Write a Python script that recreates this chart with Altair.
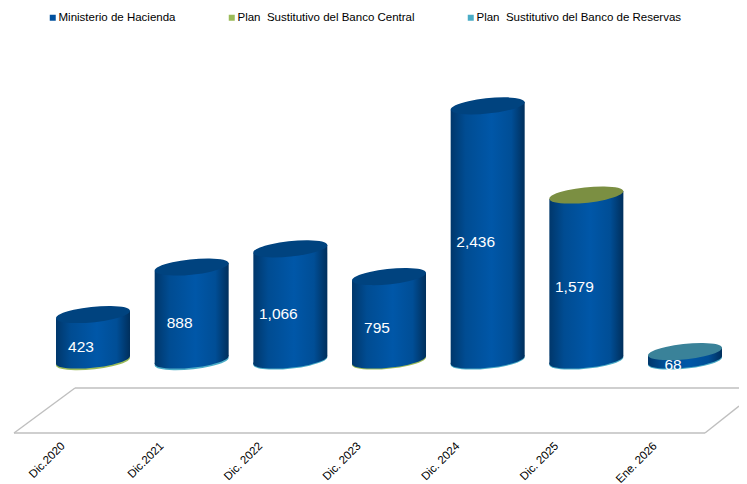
import altair as alt
import pandas as pd

categories = ["Dic.2020", "Dic.2021", "Dic. 2022", "Dic. 2023", "Dic. 2024", "Dic. 2025", "Ene. 2026"]
hacienda = [423, 888, 1066, 795, 2436, 1579, 68]
# small rim amounts visible under each cylinder, and the series that caps it
rim_series = ["central", "reservas", "reservas", "central", "reservas", "reservas", "reservas"]
rim_values = [15, 15, 10, 10, 10, 10, 10]
top_series = ["hacienda", "hacienda", "hacienda", "hacienda", "hacienda", "central", "reservas"]
extra_top = [13, 4, 0, 5, 0, 3, 13]

series_names = {
    "hacienda": "Ministerio de Hacienda",
    "central": "Plan\u00a0 Sustitutivo del Banco Central",
    "reservas": "Plan\u00a0 Sustitutivo del Banco de Reservas",
}
legend_order = list(series_names.values())
legend_colors = ["#00509E", "#9BBB59", "#4BACC6"]
top_colors = {"hacienda": "#00437F", "central": "#7B8F42", "reservas": "#3A8299"}

W, H = 731, 425
PX = 0.1043
BASE = 352
Y_TOP = BASE / PX
Y_BOTTOM = -(H - BASE) / PX
STEP = 98.67
X0 = -85 / STEP
X1 = (W - 85) / STEP
HALF = 37 / STEP
TILT = 3.9 / PX

x_scale = alt.Scale(domain=[X0, X1], nice=False, zero=False)
y_scale = alt.Scale(domain=[Y_BOTTOM, Y_TOP], nice=False, zero=False)
x_plain = alt.X("i:Q", scale=x_scale, axis=None)

ELLIPSE = "M-0.9945,0.1045 A1,0.205,-6,1,1,0.9945,-0.1045 A1,0.205,-6,1,1,-0.9945,0.1045 Z"
ELLIPSE_SIZE = 74.4 ** 2

body_gradient = alt.Gradient(
    gradient="linear", x1=0, x2=1, y1=0, y2=0,
    stops=[
        alt.GradientStop(color="#00376B", offset=0),
        alt.GradientStop(color="#004C92", offset=0.2),
        alt.GradientStop(color="#0057A8", offset=0.55),
        alt.GradientStop(color="#004E96", offset=0.82),
        alt.GradientStop(color="#002F5C", offset=1),
    ],
)

rows = pd.DataFrame({
    "i": range(len(categories)),
    "category": categories,
    "total": [h + e for h, e in zip(hacienda, extra_top)],
    "label": [f"{v:,}" for v in hacienda],
    "rim": [-v for v in rim_values],
    "zero": [0] * len(categories),
    "rim_name": [series_names[s] for s in rim_series],
    "top_color": [top_colors[s] for s in top_series],
})
rows["mid"] = rows["total"] / 2

body_rows = []
for i, total in enumerate(rows["total"]):
    body_rows.append({"i": i, "x": i - HALF, "y": total - TILT, "y2": -TILT})
    body_rows.append({"i": i, "x": i + HALF, "y": total + TILT, "y2": TILT})
body = pd.DataFrame(body_rows)

x_axis = alt.X("i:Q", scale=x_scale, title=None, axis=alt.Axis(
    values=list(range(len(categories))),
    labelExpr="[" + ",".join(f"'{c}'" for c in categories) + "][datum.value]",
    grid=False, domain=False, ticks=False,
    labelAngle=-45, labelAlign="right", labelBaseline="middle",
    labelOffset=-30, labelPadding=11, labelFontSize=11.5,
    labelFont="Liberation Sans", labelColor="#000000",
))

floor_edges = [
    (6, 425, 697, 425), (67, 380, 731, 380), (6, 425, 67, 380), (697, 425, 731, 398),
]
floor_data = pd.DataFrame(floor_edges, columns=["a", "b", "c", "d"])
floor = alt.Chart(floor_data).mark_rule(color="#BFBFBF", strokeWidth=1.4).encode(
    x=alt.X("a:Q", scale=alt.Scale(domain=[0, W], nice=False, zero=False), axis=None),
    x2="c:Q",
    y=alt.Y("b:Q", scale=alt.Scale(domain=[H, 0], nice=False, zero=False), axis=None),
    y2="d:Q",
)

rim = alt.Chart(rows).mark_point(
    shape=ELLIPSE, size=ELLIPSE_SIZE, filled=True, opacity=1
).encode(
    x=x_axis,
    y=alt.Y("rim:Q", scale=y_scale, axis=None),
    color=alt.Color("rim_name:N", scale=alt.Scale(domain=legend_order, range=legend_colors), legend=alt.Legend(
        title=None, orient="none", legendX=39, legendY=4, direction="horizontal",
        symbolType="square", symbolSize=36, symbolOpacity=1, symbolStrokeWidth=0,
        labelFont="Liberation Sans", labelFontSize=11.5, labelColor="#000000",
        labelOffset=0, columnPadding=50, gridAlign="none", columns=3, labelLimit=300,
    )),
)

base = alt.Chart(rows).mark_point(
    shape=ELLIPSE, size=ELLIPSE_SIZE, filled=True, opacity=1, color=body_gradient
).encode(x=x_plain, y=alt.Y("zero:Q", scale=y_scale, axis=None))

cylinder = alt.Chart(body).mark_area(color=body_gradient, opacity=1).encode(
    x=alt.X("x:Q", scale=x_scale, axis=None),
    y=alt.Y("y:Q", scale=y_scale, axis=None),
    y2="y2:Q",
    detail="i:N",
)

top = alt.Chart(rows).mark_point(
    shape=ELLIPSE, size=ELLIPSE_SIZE, filled=True, opacity=1
).encode(
    x=x_plain,
    y=alt.Y("total:Q", scale=y_scale, axis=None),
    fill=alt.Fill("top_color:N", scale=None, legend=None),
)

text = alt.Chart(rows).mark_text(
    color="white", font="Liberation Sans", fontSize=15.5, dx=-12, dy=9.5
).encode(
    x=x_plain,
    y=alt.Y("mid:Q", scale=y_scale, axis=None),
    text="label:N",
)

chart = (
    alt.layer(floor, rim, base, cylinder, top, text)
    .resolve_scale(x="independent", y="independent", color="independent")
    .resolve_axis(x="shared")
    .properties(
        width=W, height=H,
        autosize=alt.AutoSizeParams(type="none"),
        padding={"left": 0, "top": 0, "right": 0, "bottom": 51},
        background="#FFFFFF",
    )
    .configure_view(stroke=None)
)

chart.save("out.html", embed_options={"renderer": "svg", "actions": False})
